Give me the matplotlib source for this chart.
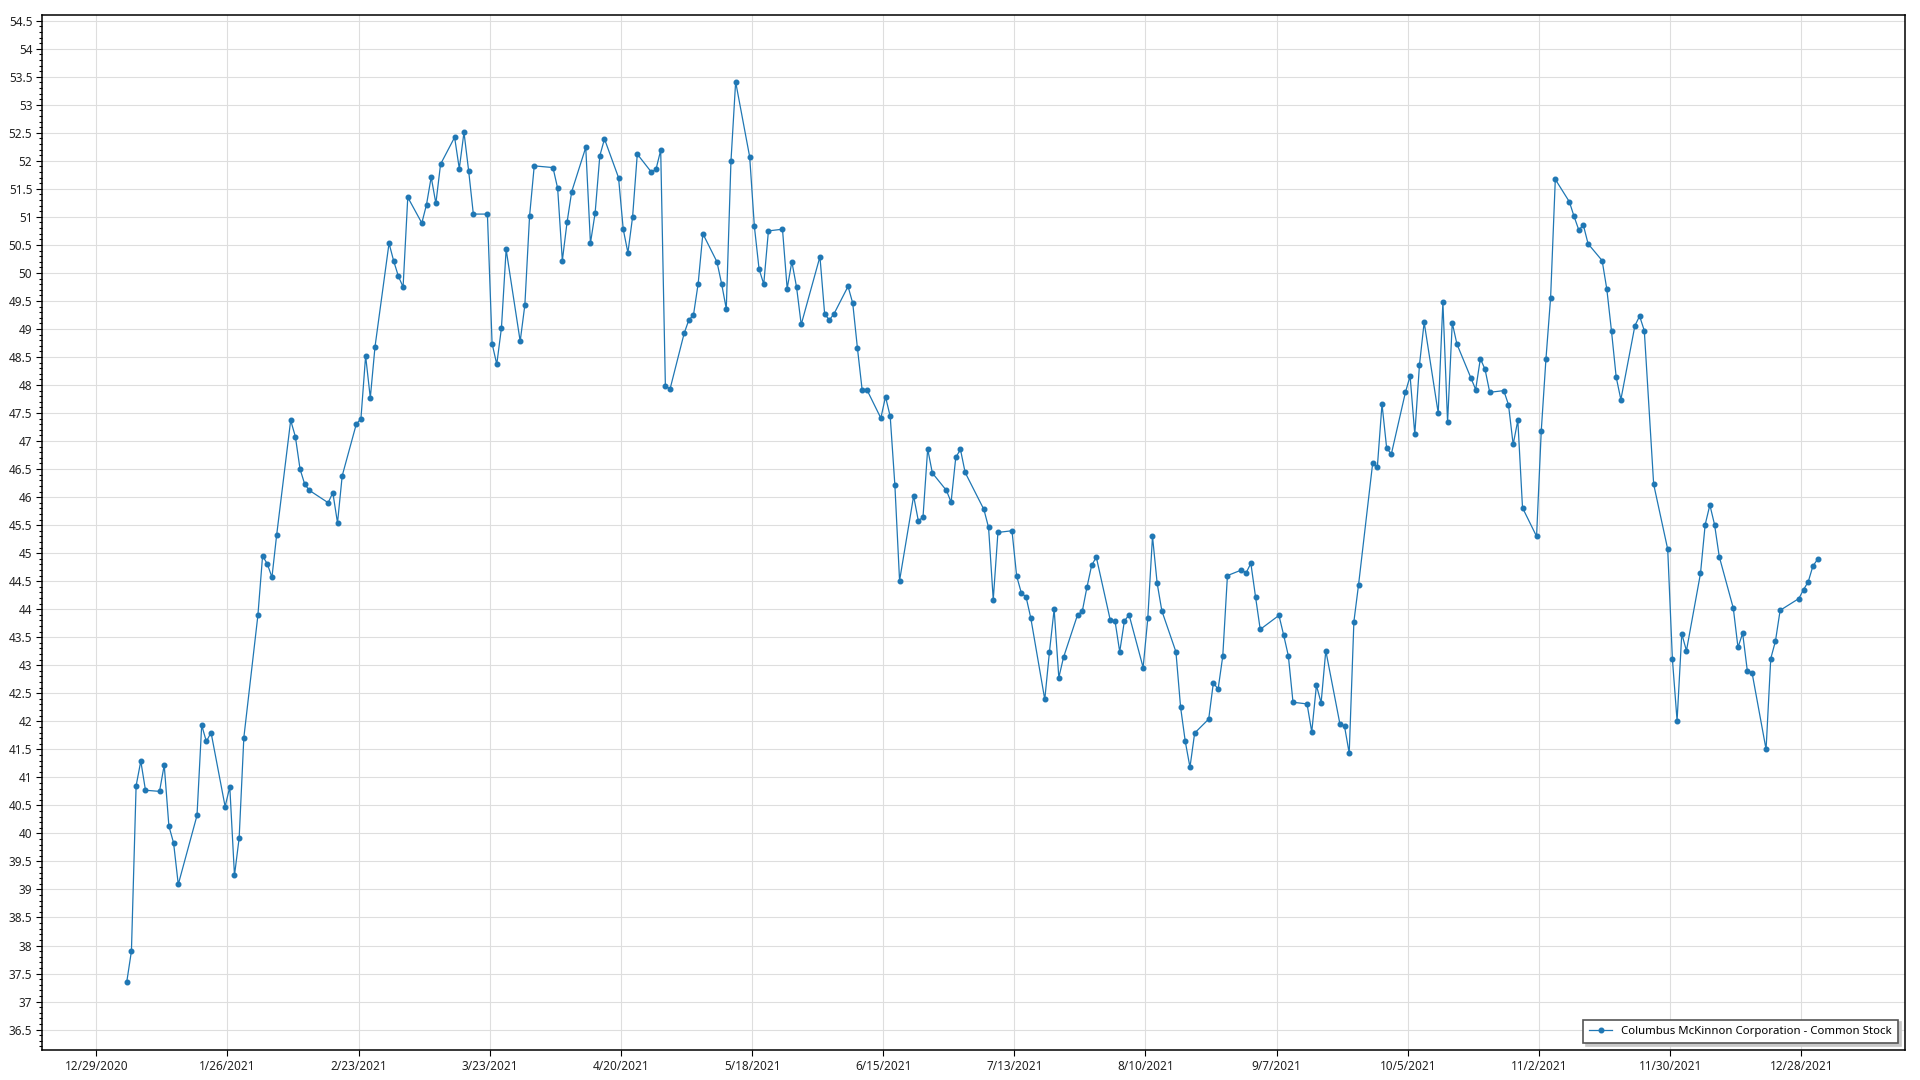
import numpy as np
import pandas as pd
import matplotlib
matplotlib.use("Agg")
import matplotlib.pyplot as plt
import matplotlib.dates as mdates
from matplotlib.ticker import MultipleLocator, FixedLocator, FuncFormatter

plt.rcParams["font.family"] = ["Noto Sans", "DejaVu Sans"]

# NYSE holidays 2021 (trading calendar for the series)
holidays = ["2021-01-01", "2021-01-18", "2021-02-15", "2021-04-02", "2021-05-31",
            "2021-07-05", "2021-09-06", "2021-11-25", "2021-12-24"]

# closing prices per month
jan = [37.35, 37.9, 40.85, 41.29, 40.77, 40.75, 41.22, 40.13, 39.83, 39.09,
       40.32, 41.93, 41.64, 41.8, 40.48, 40.83, 39.25, 39.92, 41.71]
feb = [43.89, 44.95, 44.81, 44.57, 45.32, 47.37, 47.08, 46.5, 46.23, 46.12,
       45.9, 46.08, 45.54, 46.38, 47.3, 47.4, 48.52, 47.77, 48.68]
mar = [50.53, 50.21, 49.94, 49.75, 51.35, 50.89, 51.22, 51.71, 51.24, 51.94,
       52.42, 51.86, 52.51, 51.82, 51.05, 51.05, 48.74, 48.37, 49.02, 50.42,
       48.78, 49.43, 51.01]
apr = [51.91, 51.88, 51.51, 50.22, 50.9, 51.45, 52.24, 50.53, 51.07, 52.09,
       52.39, 51.7, 50.78, 50.36, 51.0, 52.12, 51.8, 51.85, 52.19, 47.98, 47.93]
may = [48.92, 49.16, 49.25, 49.81, 50.7, 50.2, 49.81, 49.36, 51.99, 53.41,
       52.07, 50.83, 50.07, 49.8, 50.75, 50.78, 49.72, 50.2, 49.75, 49.08]
jun = [50.29, 49.27, 49.16, 49.27, 49.76, 49.46, 48.66, 47.92, 47.92, 47.41,
       47.79, 47.44, 46.21, 44.51, 46.02, 45.58, 45.64, 46.86, 46.43, 46.12,
       45.91, 46.71]
jul = [46.85, 46.44, 45.78, 45.46, 44.17, 45.37, 45.4, 44.59, 44.29, 44.22,
       43.85, 42.39, 43.24, 44.0, 42.78, 43.14, 43.9, 43.96, 44.39, 44.78, 44.93]
aug = [43.8, 43.79, 43.24, 43.79, 43.9, 42.96, 43.84, 45.3, 44.46, 43.97,
       43.24, 42.25, 41.64, 41.18, 41.79, 42.04, 42.69, 42.57, 43.16, 44.6,
       44.7, 44.65]
sep = [44.82, 44.22, 43.64, 43.89, 43.54, 43.17, 42.34, 42.31, 41.81, 42.64,
       42.33, 43.26, 41.96, 41.91, 41.43, 43.78, 44.44, 46.6, 46.53, 47.66, 46.87]
oct_ = [46.77, 47.87, 48.16, 47.12, 48.36, 49.12, 47.5, 49.48, 47.34, 49.11,
        48.73, 48.12, 47.92, 48.47, 48.28, 47.87, 47.9, 47.65, 46.94, 47.37, 45.81]
nov = [45.3, 47.18, 48.46, 49.56, 51.67, 51.27, 51.01, 50.77, 50.85, 50.52,
       50.22, 49.71, 48.96, 48.14, 47.74, 49.06, 49.23, 48.97, 46.23, 45.07, 43.11]
dec = [42.01, 43.56, 43.26, 44.64, 45.51, 45.86, 45.51, 44.94, 44.02, 43.32,
       43.57, 42.9, 42.87, 41.5, 43.12, 43.43, 43.98, 44.19, 44.35, 44.49,
       44.77, 44.89]

prices = jan + feb + mar + apr + may + jun + jul + aug + sep + oct_ + nov + dec
dates = pd.bdate_range("2021-01-04", "2021-12-31", freq="C", holidays=holidays)
dates = dates + pd.Timedelta(hours=12)

tick_dates = pd.date_range("2020-12-29", periods=14, freq="28D")
series_name = "Columbus McKinnon Corporation - Common Stock"

fig = plt.figure(figsize=(19.2, 10.8), dpi=100)
ax = fig.add_axes([0.0219, 0.0278, 0.9703, 0.9580])

ax.plot(dates, prices, color="#1f77b4", lw=0.9, marker="o", ms=3.3,
        mec="#1f77b4", mfc="#1f77b4", label=series_name, zorder=3)

ax.set_xlim(pd.Timestamp("2020-12-17 10:00"), pd.Timestamp("2022-01-19 04:00"))
ax.set_ylim(36.136, 54.596)

ax.xaxis.set_major_locator(FixedLocator(mdates.date2num(tick_dates)))
ax.xaxis.set_major_formatter(FuncFormatter(
    lambda v, p: "{d.month}/{d.day}/{d.year}".format(d=mdates.num2date(v))))
ax.yaxis.set_major_locator(MultipleLocator(0.5))
ax.yaxis.set_minor_locator(MultipleLocator(0.1))
ax.yaxis.set_major_formatter(FuncFormatter(lambda v, p: f"{v:g}"))

ax.grid(True, which="major", color="#dedede", lw=0.8, zorder=0)
ax.set_axisbelow(True)
for s in ax.spines.values():
    s.set_color("black")
    s.set_linewidth(1.1)

ax.tick_params(axis="both", which="major", labelsize=8.5, labelcolor="#222222",
               length=4, width=0.8, pad=3)
ax.tick_params(axis="y", which="minor", length=2.2, width=0.8)

leg = ax.legend(loc="lower right", fontsize=8.2, frameon=True, fancybox=False,
                shadow={"color": "#c8c8c8", "alpha": 1.0}, borderaxespad=0.6,
                handlelength=2.0, borderpad=0.55)
leg.get_frame().set_edgecolor("#555555")
leg.get_frame().set_linewidth(1.2)

fig.savefig("out.png", dpi=100)
